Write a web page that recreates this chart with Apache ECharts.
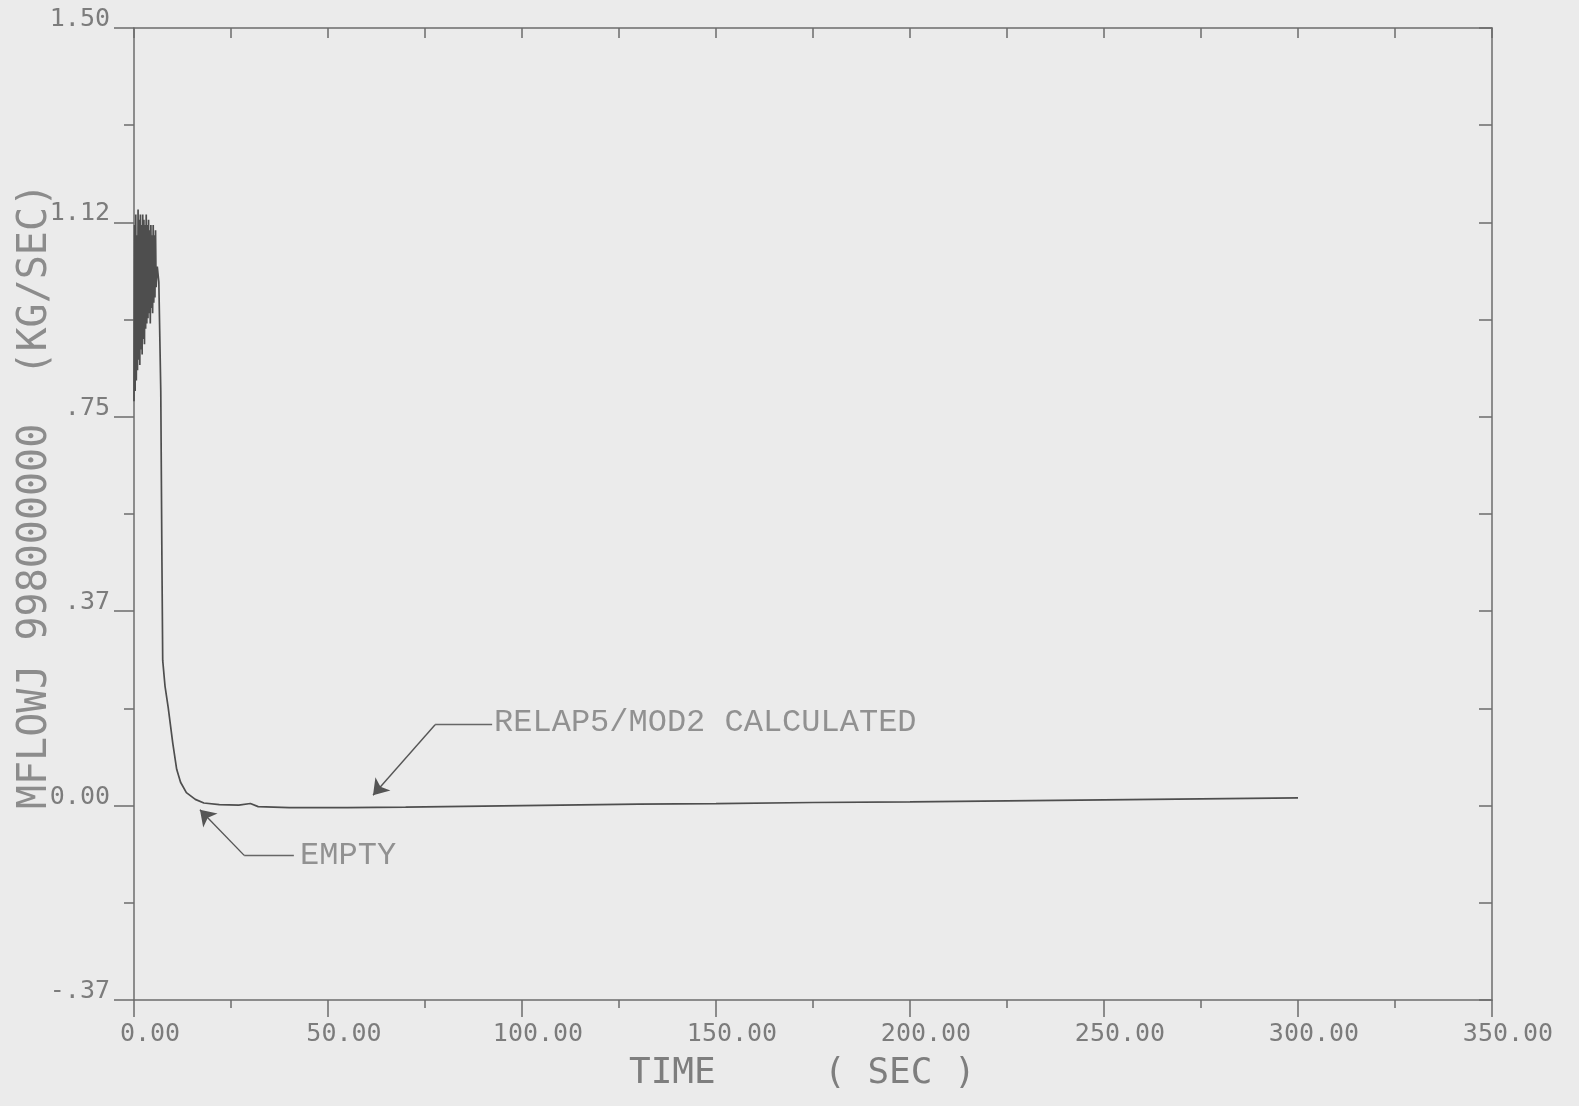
<!DOCTYPE html>
<html>
<head>
<meta charset="utf-8">
<script src="https://cdn.jsdelivr.net/npm/echarts@6/dist/echarts.min.js"></script>
<style>
html,body{margin:0;padding:0;background:#ebebeb;}
#chart{width:1579px;height:1106px;}
</style>
</head>
<body>
<div id="chart"></div>
<script>
// ---- data ----
const time = [
  0, 0.15, 0.3, 0.45, 0.6, 0.75, 0.9, 1.05, 1.2, 1.35, 1.5, 1.65, 1.8, 1.95, 2.1, 2.25, 2.4, 2.55, 2.7, 2.85,
  3.0, 3.15, 3.3, 3.45, 3.6, 3.75, 3.9, 4.05, 4.2, 4.35, 4.5, 4.65, 4.8, 4.95, 5.1, 5.25, 5.4, 5.55, 5.7,
  6.0, 6.4, 6.9, 7.2, 7.4, 8.0, 8.8, 10.0, 11.0, 12.0, 13.5, 15.8, 18, 22, 27, 30, 32, 40, 55, 70, 90,
  110, 130, 150, 175, 200, 225, 250, 275, 300
];
const mflowj = [
  0.78, 1.12, 0.80, 1.14, 0.82, 1.10, 0.84, 1.15, 0.86, 1.13, 0.85, 1.14, 0.88, 1.12, 0.87, 1.14, 0.90, 1.13, 0.89, 1.12,
  0.92, 1.14, 0.93, 1.12, 0.94, 1.13, 0.95, 1.11, 0.93, 1.12, 0.96, 1.10, 0.95, 1.12, 0.97, 1.10, 0.98, 1.11, 1.00,
  1.04, 1.01, 0.80, 0.47, 0.28, 0.23, 0.19, 0.12, 0.07, 0.045, 0.025, 0.012, 0.005, 0.002, 0.001, 0.004, -0.002, -0.004, -0.004, -0.003, -0.001,
  0.001, 0.003, 0.004, 0.006, 0.007, 0.009, 0.011, 0.013, 0.015
];
const xTickLabels = ['0.00', '50.00', '100.00', '150.00', '200.00', '250.00', '300.00', '350.00'];
const yTickLabels = ['-.37', '0.00', '.37', '.75', '1.12', '1.50'];

// annotations (data coordinates): horizontal leader pieces, arrow pieces (ending at tip), texts
const leaderSegments = [
  [[92.3, 0.156], [77.6, 0.156]],
  [[41.2, -0.096], [28.4, -0.096]]
];
const arrowSegments = [
  [[77.6, 0.156], [61.6, 0.02]],
  [[28.4, -0.096], [17.0, -0.008]]
];
const annotTexts = [[92.8, 0.160, 'RELAP5/MOD2 CALCULATED'], [42.8, -0.097, 'EMPTY']];

const X_MIN = 0, X_MAX = 350, X_INT = 50;
const Y_MIN = -0.375, Y_MAX = 1.5, Y_INT = 0.375;

const axisCol = '#6c6c6c';
const labelCol = '#7c7c7c';
const lineCol = '#4e4e4e';
const monoTick = 'DejaVu Sans Mono';

const chart = echarts.init(document.getElementById('chart'));
const option = {
  animation: false,
  backgroundColor: '#ebebeb',
  grid: { left: 134, right: 87, top: 28, bottom: 106, containLabel: false },
  xAxis: [
    {
      type: 'value', position: 'bottom', min: X_MIN, max: X_MAX, interval: X_INT,
      axisLine: { show: true, onZero: false, lineStyle: { color: axisCol, width: 1.5 } },
      axisTick: { show: true, inside: false, length: 17, lineStyle: { color: axisCol, width: 1.5 } },
      minorTick: { show: true, splitNumber: 2, length: 8, lineStyle: { color: axisCol, width: 1.5 } },
      splitLine: { show: false },
      axisLabel: {
        show: true, margin: 22, color: labelCol, fontFamily: monoTick, fontSize: 25,
        padding: [0, 0, 0, 32],
        formatter: function (v) { return xTickLabels[Math.round((v - X_MIN) / X_INT)]; }
      }
    },
    {
      type: 'value', position: 'top', min: X_MIN, max: X_MAX, interval: 25,
      axisLine: { show: true, onZero: false, lineStyle: { color: axisCol, width: 1.5 } },
      axisTick: { show: true, inside: true, length: 10, lineStyle: { color: axisCol, width: 1.5 } },
      axisLabel: { show: false },
      splitLine: { show: false }
    }
  ],
  yAxis: [
    {
      type: 'value', position: 'left', min: Y_MIN, max: Y_MAX, interval: Y_INT,
      axisLine: { show: true, onZero: false, lineStyle: { color: axisCol, width: 1.5 } },
      axisTick: { show: true, inside: false, length: 20, lineStyle: { color: axisCol, width: 1.5 } },
      minorTick: { show: true, splitNumber: 2, length: 10, lineStyle: { color: axisCol, width: 1.5 } },
      splitLine: { show: false },
      axisLabel: {
        show: true, margin: 24, color: labelCol, fontFamily: monoTick, fontSize: 25,
        verticalAlign: 'bottom', padding: [0, 0, -4, 0],
        formatter: function (v) { return yTickLabels[Math.round((v - Y_MIN) / Y_INT)]; }
      }
    },
    {
      type: 'value', position: 'right', min: Y_MIN, max: Y_MAX, interval: Y_INT / 2,
      axisLine: { show: true, onZero: false, lineStyle: { color: axisCol, width: 1.5 } },
      axisTick: { show: true, inside: true, length: 13, lineStyle: { color: axisCol, width: 1.5 } },
      axisLabel: { show: false },
      splitLine: { show: false }
    }
  ],
  graphic: [
    {
      type: 'text', left: 629, top: 1056,
      style: { text: 'TIME     ( SEC )', fill: '#7e7e7e', font: '36px "DejaVu Sans Mono"' }
    },
    {
      type: 'text', x: 36, y: 496, rotation: Math.PI / 2,
      style: {
        text: 'MFLOWJ 998000000  (KG/SEC)', fill: '#8c8c8c', font: '40px "DejaVu Sans Mono"',
        align: 'center', verticalAlign: 'middle'
      }
    }
  ],
  series: [
    {
      name: 'MFLOWJ', type: 'line', xAxisIndex: 0, yAxisIndex: 0,
      data: time.map(function (t, i) { return [t, mflowj[i]]; }),
      showSymbol: false, smooth: false,
      lineStyle: { color: lineCol, width: 1.7 }
    },
    {
      type: 'lines', coordinateSystem: 'cartesian2d', xAxisIndex: 0, yAxisIndex: 0,
      symbol: ['none', 'none'],
      lineStyle: { color: '#666', width: 1.4, opacity: 1 },
      data: leaderSegments.map(function (c) { return { coords: c }; })
    },
    {
      type: 'lines', coordinateSystem: 'cartesian2d', xAxisIndex: 0, yAxisIndex: 0,
      symbol: ['none', 'arrow'], symbolSize: [0, 15],
      lineStyle: { color: '#555', width: 1.4, opacity: 1 },
      data: arrowSegments.map(function (c) { return { coords: c }; })
    },
    {
      type: 'scatter', xAxisIndex: 0, yAxisIndex: 0, symbolSize: 0,
      data: annotTexts,
      label: {
        show: true, position: 'right', distance: 0, color: '#7a7a7a',
        fontFamily: 'Liberation Mono', fontSize: 32,
        formatter: function (p) { return p.value[2]; }
      }
    }
  ]
};
chart.setOption(option);
</script>
</body>
</html>
